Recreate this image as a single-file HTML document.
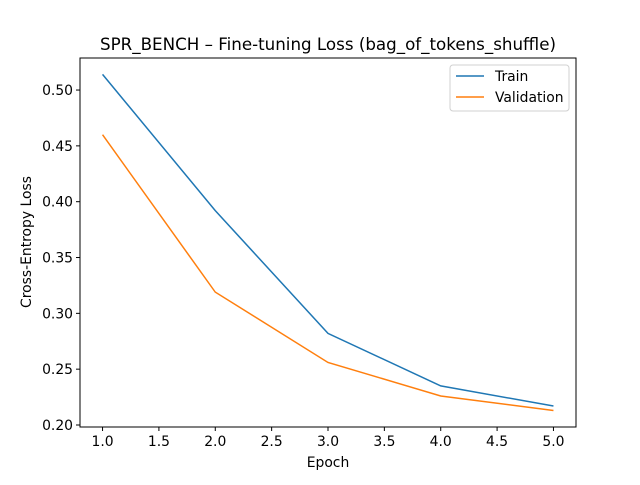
<!DOCTYPE html>
<html><head><meta charset="utf-8"><style>
body{margin:0;background:#fff;}
svg text{font-family:"DejaVu Sans","Liberation Sans",sans-serif;fill:#000;}
</style></head><body>
<svg id="chart" width="640" height="480" xmlns="http://www.w3.org/2000/svg">
<rect width="640" height="480" fill="#fff"/>
<text x="328" y="50" font-size="16.7" text-anchor="middle">SPR_BENCH – Fine-tuning Loss (bag_of_tokens_shuffle)</text>
<text x="328" y="467" font-size="13.9" text-anchor="middle">Epoch</text>
<text x="31" y="242" font-size="13.9" text-anchor="middle" transform="rotate(-90 31 242)">Cross-Entropy Loss</text>
<g id="ticks"></g>
<g id="lines"></g>
<rect x="80" y="58" width="496" height="369" fill="none" stroke="#000" stroke-width="1"/>
<g>
<rect x="450" y="65" width="119" height="46" rx="3" fill="#fff" stroke="#ccc" opacity="0.9"/>
<line x1="456" y1="76" x2="484" y2="76" stroke="#1f77b4" stroke-width="1.5"/>
<text x="495" y="81" font-size="13.9">Train</text>
<line x1="456" y1="97" x2="484" y2="97" stroke="#ff7f0e" stroke-width="1.5"/>
<text x="495" y="102" font-size="13.9">Validation</text>
</g>
</svg>
<script>
const epochs=[1,2,3,4,5];
const trainLoss=[0.514,0.392,0.282,0.235,0.217];
const valLoss=[0.460,0.319,0.256,0.226,0.213];
const xTicks=[1.0,1.5,2.0,2.5,3.0,3.5,4.0,4.5,5.0];
const yTicks=[0.20,0.25,0.30,0.35,0.40,0.45,0.50];
const NS="http://www.w3.org/2000/svg";
const X0=80,X1=576,Y0=427,Y1=58;
const xmin=0.8,xmax=5.2,ymin=0.1982,ymax=0.5287;
function sx(v){return X0+(v-xmin)/(xmax-xmin)*(X1-X0);}
function sy(v){return Y0-(v-ymin)/(ymax-ymin)*(Y0-Y1);}
const tg=document.getElementById('ticks');
xTicks.forEach(t=>{
 const l=document.createElementNS(NS,'line');
 l.setAttribute('x1',sx(t));l.setAttribute('x2',sx(t));l.setAttribute('y1',Y0);l.setAttribute('y2',Y0+4);l.setAttribute('stroke','#000');
 
 
 tg.appendChild(l);
 const tx=document.createElementNS(NS,'text');
 tx.setAttribute('x',sx(t));tx.setAttribute('y',Y0+19);tx.setAttribute('font-size','13.9');tx.setAttribute('text-anchor','middle');
 tx.textContent=t.toFixed(1);
 
 
 tg.appendChild(tx);
});
yTicks.forEach(t=>{
 const l=document.createElementNS(NS,'line');
 l.setAttribute('x1',X0-4);l.setAttribute('x2',X0);l.setAttribute('y1',sy(t));l.setAttribute('y2',sy(t));l.setAttribute('stroke','#000');
 
 
 tg.appendChild(l);
 const tx=document.createElementNS(NS,'text');
 tx.setAttribute('x',X0-7);tx.setAttribute('y',sy(t)+5);tx.setAttribute('font-size','13.9');tx.setAttribute('text-anchor','end');
 tx.textContent=t.toFixed(2);
 
 
 tg.appendChild(tx);
});
const lg=document.getElementById('lines');
function drawLine(vals,color,name){
 const p=document.createElementNS(NS,'polyline');
 p.setAttribute('points',vals.map((v,i)=>sx(epochs[i])+','+sy(v)).join(' '));
 p.setAttribute('fill','none');p.setAttribute('stroke',color);p.setAttribute('stroke-width','1.5');
 
 
 lg.appendChild(p);
}
drawLine(trainLoss,'#1f77b4','train-line');
drawLine(valLoss,'#ff7f0e','validation-line');
</script>
</body></html>
